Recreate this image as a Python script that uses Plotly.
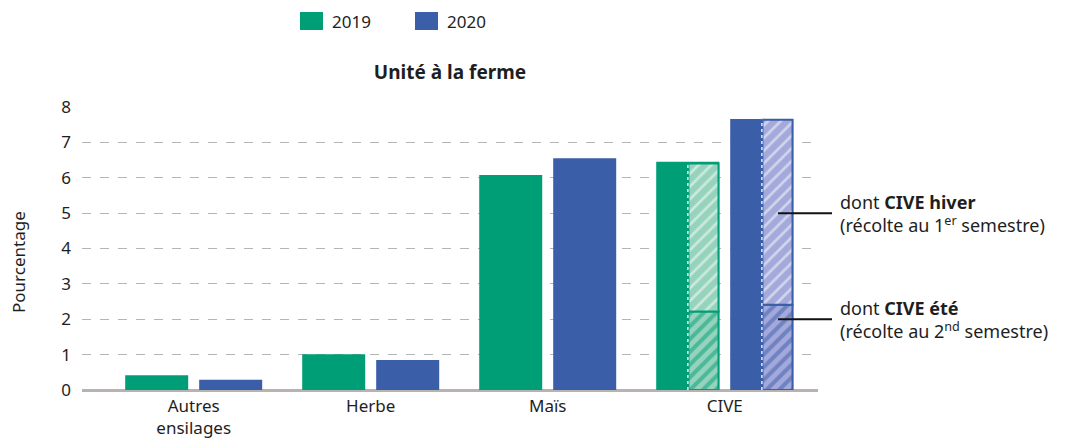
import plotly.graph_objects as go

categories = ["Autres<br>ensilages", "Herbe", "Maïs", "CIVE"]
v2019 = [0.42, 1.01, 6.08, 6.45]
v2020 = [0.29, 0.85, 6.55, 7.66]
# CIVE breakdown
cive_ete = {"2019": 2.22, "2020": 2.41}
cive_hiver = {"2019": 4.18, "2020": 5.23}
y_ticks = [0, 1, 2, 3, 4, 5, 6, 7, 8]

GREEN = "#009E76"
BLUE = "#3B5EA9"
LIGHT_GREEN = "#96D3BD"
LIGHT_BLUE = "#A3A9DA"
FONT = "Noto Sans"
TXT = "#1e1e1e"

# page offset (default body margin of the html page)
OFF = 8
FW, FH = 1065 - OFF, 445 - OFF
# plot area in page pixels
PL, PR, PT, PB = 82, 818, 107, 390
PW, PH = PR - PL, PB - PT


def px_x(x):
    return (x - PL) / PW


def px_y(y):
    return (PB - y) / PH


W = 0.356
G = 0.062
xs = list(range(len(categories)))
off19 = -(W + G / 2)
off20 = G / 2

fig = go.Figure()
fig.add_trace(go.Bar(x=xs, y=v2019, width=W, offset=off19, name="2019", showlegend=False,
                     marker=dict(color=GREEN, line=dict(width=0))))
fig.add_trace(go.Bar(x=xs, y=v2020, width=W, offset=off20, name="2020", showlegend=False,
                     marker=dict(color=BLUE, line=dict(width=0))))

ci = categories.index("CIVE")
for yr, off, col, light in [("2019", off19, GREEN, LIGHT_GREEN), ("2020", off20, BLUE, LIGHT_BLUE)]:
    ete = cive_ete[yr]
    hiv = cive_hiver[yr]
    hoff = off + W / 2 + 0.004
    hw = W / 2 - 0.008
    fig.add_trace(go.Bar(x=[ci], y=[ete], base=[0], width=hw, offset=hoff, showlegend=False,
                         marker=dict(color=light, line=dict(color=col, width=2),
                                     pattern=dict(shape="/", fgcolor=col, size=9, solidity=0.45))))
    fig.add_trace(go.Bar(x=[ci], y=[hiv], base=[ete], width=hw, offset=hoff, showlegend=False,
                         marker=dict(color=light, line=dict(color=col, width=2),
                                     pattern=dict(shape="/", fgcolor="white", size=9, solidity=0.3))))
    xl = ci + hoff - 0.003
    fig.add_trace(go.Scatter(x=[xl, xl], y=[0, ete + hiv], mode="lines", showlegend=False,
                             hoverinfo="skip", line=dict(color="white", width=1.3, dash="dot")))

# callout lines and labels
for yv, txt in [(5, "dont <b>CIVE hiver</b><br>(récolte au 1<sup>er</sup> semestre)"),
                (2, "dont <b>CIVE été</b><br>(récolte au 2<sup>nd</sup> semestre)")]:
    fig.add_shape(type="line", xref="paper", yref="y", x0=px_x(778), x1=px_x(832), y0=yv, y1=yv,
                  line=dict(color="#111111", width=2))
    fig.add_annotation(xref="paper", yref="y", x=px_x(838), y=yv, text=txt, showarrow=False,
                       xanchor="left", yanchor="middle", align="left",
                       font=dict(family=FONT, size=18, color=TXT))

# manual legend
for yr, col, sx in [("2019", GREEN, 300), ("2020", BLUE, 415)]:
    fig.add_shape(type="rect", xref="paper", yref="paper", x0=px_x(sx), x1=px_x(sx + 23),
                  y0=px_y(30), y1=px_y(12), fillcolor=col, line=dict(width=0))
    fig.add_annotation(xref="paper", yref="paper", x=px_x(sx + 30), y=px_y(21), text=yr,
                       showarrow=False, xanchor="left", yanchor="middle",
                       font=dict(family=FONT, size=17, color=TXT))

# y axis title
fig.add_annotation(xref="paper", yref="paper", x=px_x(18), y=px_y(262), text="Pourcentage",
                   textangle=-90, showarrow=False, xanchor="center", yanchor="middle",
                   font=dict(family=FONT, size=17, color=TXT))

fig.update_layout(
    barmode="overlay",
    width=FW, height=FH,
    margin=dict(l=PL - OFF, r=FW - (PR - OFF), t=PT - OFF, b=FH - (PB - OFF), autoexpand=False),
    paper_bgcolor="white", plot_bgcolor="white",
    font=dict(family=FONT, size=17, color=TXT),
    title=dict(text="<b>Unité à la ferme</b>", x=0.5, xref="paper", xanchor="center",
               y=1 - (72 - OFF) / FH, yref="container", yanchor="middle",
               font=dict(family=FONT, size=19, color=TXT)),
    showlegend=False,
)
fig.update_xaxes(range=[-0.631, 3.527], tickvals=xs, ticktext=categories, showgrid=False,
                 zeroline=False, showline=False, ticks="", tickfont=dict(size=17),
                 ticklabelstandoff=4, automargin=False)
fig.update_yaxes(range=[0, 8], tickvals=y_ticks, showgrid=True, gridcolor="#b5b5b5",
                 griddash="dash", gridwidth=1, zeroline=True, zerolinecolor="#b8b3b0",
                 zerolinewidth=3, showline=False, ticks="", ticklabelstandoff=10,
                 tickfont=dict(size=17), automargin=False)

fig.write_html("out.html")
